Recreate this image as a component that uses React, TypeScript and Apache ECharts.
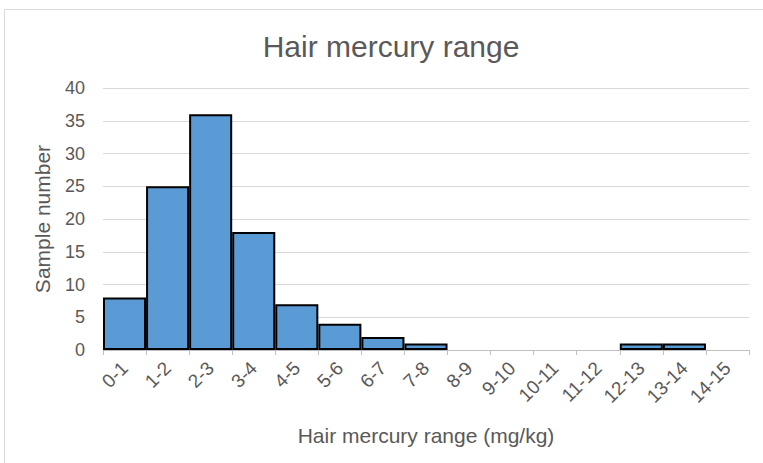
import React, { useEffect, useRef } from "react";
import * as echarts from "echarts";

const categories = ["0-1", "1-2", "2-3", "3-4", "4-5", "5-6", "6-7", "7-8", "8-9", "9-10", "10-11", "11-12", "12-13", "13-14", "14-15"];
const sampleCounts = [8, 25, 36, 18, 7, 4, 2, 1, 0, 0, 0, 0, 1, 1, 0];
const yTicks = { min: 0, max: 40, interval: 5 };
const titleText = "Hair mercury range";
const xAxisName = "Hair mercury range (mg/kg)";
const yAxisName = "Sample number";

export default function App() {
  const ref = useRef<HTMLDivElement>(null);
  useEffect(() => {
    document.body.style.margin = "0";
    const chart = echarts.init(ref.current!, null, { renderer: "svg" });
    const font = "'Liberation Sans', Arial, sans-serif";
    chart.setOption({
      animation: false,
      backgroundColor: "#ffffff",
      textStyle: { fontFamily: font },
      title: {
        text: titleText,
        left: 386,
        top: 26,
        textAlign: "center",
        textStyle: { fontFamily: font, fontSize: 30, fontWeight: "normal", color: "#595959" },
      },
      graphic: [
        {
          type: "rect",
          shape: { x: 4.5, y: 9.5, width: 800, height: 500 },
          style: { fill: "none", stroke: "#D9D9D9", lineWidth: 1 },
          silent: true,
        },
      ],
      grid: { left: 103, right: 14, top: 88, bottom: 113, containLabel: false },
      xAxis: {
        type: "category",
        data: categories,
        name: xAxisName,
        nameLocation: "middle",
        nameGap: 75,
        nameTextStyle: { fontFamily: font, fontSize: 21, color: "#595959" },
        axisLine: { lineStyle: { color: "#BFBFBF", width: 1 } },
        axisTick: { show: true, alignWithLabel: false, length: 5, lineStyle: { color: "#BFBFBF" } },
        axisLabel: { rotate: 45, margin: 15, fontSize: 19, color: "#595959", fontFamily: font, interval: 0 },
      },
      yAxis: {
        type: "value",
        min: yTicks.min,
        max: yTicks.max,
        interval: yTicks.interval,
        name: yAxisName,
        nameLocation: "middle",
        nameGap: 50,
        nameRotate: 90,
        nameTextStyle: { fontFamily: font, fontSize: 21, color: "#595959" },
        axisLine: { show: false },
        axisTick: { show: false },
        axisLabel: { fontSize: 18, color: "#595959", fontFamily: font, margin: 18 },
        splitLine: { lineStyle: { color: "#D9D9D9", width: 1 } },
      },
      series: [
        {
          type: "bar",
          barCategoryGap: "0%",
          data: sampleCounts.map((v) => ({
            value: v,
            itemStyle: v === 0 ? { borderWidth: 0, opacity: 0 } : undefined,
          })),
          itemStyle: { color: "#5B9BD5", borderColor: "#000000", borderWidth: 2 },
        },
      ],
    });
    return () => chart.dispose();
  }, []);
  return <div ref={ref} style={{ width: 763, height: 463 }} />;
}
